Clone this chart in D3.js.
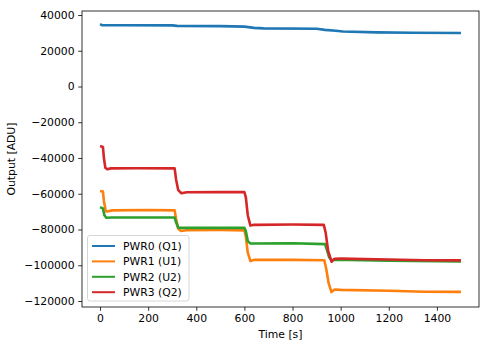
<!DOCTYPE html>
<html><head><meta charset="utf-8">
<script src="https://cdn.jsdelivr.net/npm/d3@7"></script>
<style>body{margin:0;background:#fff}svg{display:block;font-family:"DejaVu Sans",sans-serif}</style>
</head><body><svg id="c" width="490" height="347"></svg>
<script>
const seriesNames = ["PWR0 (Q1)", "PWR1 (U1)", "PWR2 (U2)", "PWR3 (Q2)"];
const colors = ["#1f77b4", "#ff7f0e", "#2ca02c", "#d62728"];
const xTicks = [0, 200, 400, 600, 800, 1000, 1200, 1400];
const yTicks = [40000, 20000, 0, -20000, -40000, -60000, -80000, -100000, -120000];
const pwr0 = [[0,34900],[8,34300],[100,34250],[300,34200],[320,33900],[500,33800],[600,33500],[640,32800],[680,32500],[900,32300],[935,31700],[980,31200],[1010,30800],[1150,30300],[1300,30100],[1500,29900]];
const pwr1 = [[0,-58500],[12,-58800],[16,-64000],[24,-69800],[30,-69900],[50,-69300],[200,-69100],[310,-69300],[316,-74000],[325,-79500],[335,-80800],[360,-80400],[500,-80300],[600,-80500],[606,-84000],[614,-93000],[625,-97700],[640,-97000],[800,-97000],[932,-97200],[940,-102000],[950,-110000],[962,-115000],[975,-113600],[1000,-113800],[1200,-114300],[1350,-114800],[1500,-114900]];
const pwr2 = [[0,-67600],[12,-68200],[18,-72000],[26,-73400],[50,-73300],[310,-73300],[316,-76000],[325,-79000],[340,-79100],[600,-79000],[606,-81000],[614,-86500],[625,-87800],[800,-87700],[935,-88200],[942,-91000],[952,-95500],[962,-97200],[975,-96900],[1200,-97400],[1500,-97900]];
const pwr3 = [[0,-33300],[12,-33800],[16,-40000],[22,-45500],[30,-46300],[45,-45800],[150,-45700],[310,-45800],[316,-52000],[325,-58000],[338,-59700],[360,-59200],[500,-59100],[600,-59100],[606,-62000],[614,-72000],[625,-77800],[640,-77400],[800,-77200],[930,-77400],[938,-82000],[948,-92000],[962,-98000],[975,-96400],[1000,-96300],[1200,-96800],[1350,-97200],[1500,-97300]];
const allSeries = [pwr0, pwr1, pwr2, pwr3];

const svg = d3.select("#c");
const L = 82, R = 479, T = 11, B = 307;
const FS = 10.8;
const x = d3.scaleLinear().domain([-75, 1575]).range([L, R]);
const y = d3.scaleLinear().domain([42240, -123360]).range([T, B]);
const fmt = d3.format("d");

const line = d3.line().x(d => x(d[0])).y(d => y(d[1]));
allSeries.forEach((s, i) => {
  svg.append("path").datum(s).attr("d", line).attr("fill", "none")
    .attr("stroke", colors[i]).attr("stroke-width", 2.6).attr("stroke-linejoin", "round");
});

const xa = svg.append("g").attr("transform", `translate(0,${B})`)
  .call(d3.axisBottom(x).tickValues(xTicks).tickFormat(fmt).tickSize(3.8).tickPadding(3.6));
const ya = svg.append("g").attr("transform", `translate(${L},0)`)
  .call(d3.axisLeft(y).tickValues(yTicks).tickFormat(v => fmt(v).replace("-", "\u2212")).tickSize(3.8).tickPadding(3.6));
[xa, ya].forEach(a => {
  a.select(".domain").remove();
  a.selectAll("line").attr("stroke", "#000").attr("stroke-width", 0.8);
  a.selectAll("text").attr("font-size", FS).attr("fill", "#000").attr("font-family", "DejaVu Sans");
});
svg.append("rect").attr("x", L).attr("y", T).attr("width", R - L).attr("height", B - T)
  .attr("fill", "none").attr("stroke", "#000").attr("stroke-width", 0.8);

svg.append("text").attr("x", (L + R) / 2).attr("y", 338).attr("text-anchor", "middle")
  .attr("font-size", FS).text("Time [s]");
svg.append("text").attr("transform", `translate(15,${(T + B) / 2}) rotate(-90)`)
  .attr("text-anchor", "middle").attr("font-size", FS).text("Output [ADU]");

const lg = svg.append("g");
lg.append("rect").attr("x", 87.5).attr("y", 235.5).attr("width", 101.5).attr("height", 65.5).attr("rx", 2.5)
  .attr("fill", "rgba(255,255,255,0.8)").attr("stroke", "#ccc").attr("stroke-width", 0.8);
seriesNames.forEach((n, i) => {
  const yy = 246 + i * 15.4;
  lg.append("line").attr("x1", 92).attr("x2", 115).attr("y1", yy).attr("y2", yy)
    .attr("stroke", colors[i]).attr("stroke-width", 2);
  lg.append("text").attr("x", 123).attr("y", yy + 3.9).attr("font-size", FS).text(n);
});
</script></body></html>
